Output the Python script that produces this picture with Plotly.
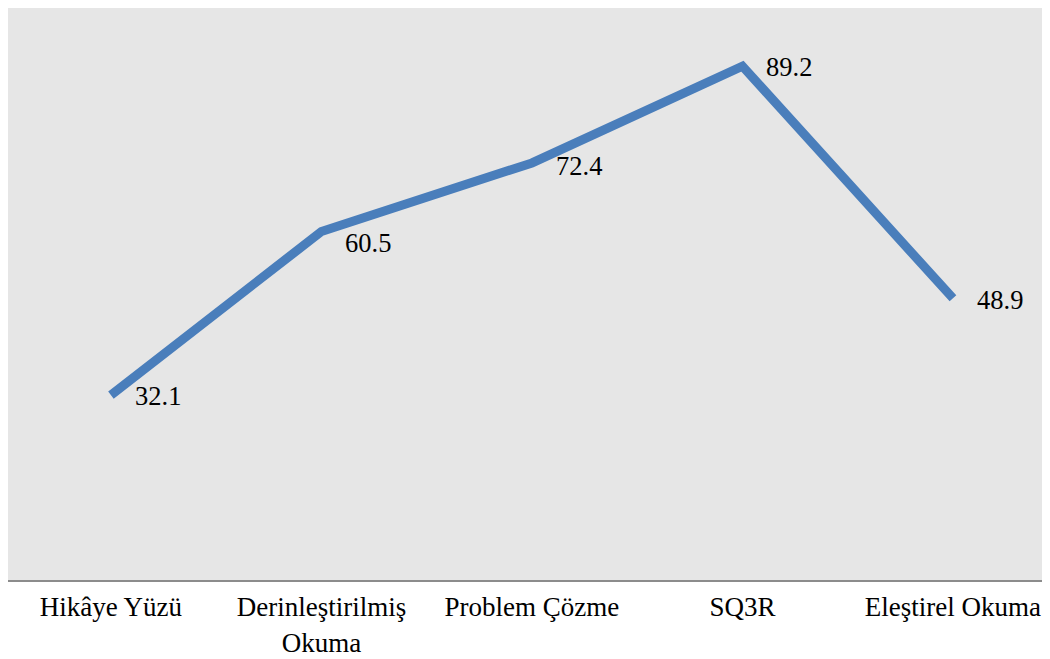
import plotly.graph_objects as go

categories = ["Hikâye Yüzü", "Derinleştirilmiş<br>Okuma", "Problem Çözme", "SQ3R", "Eleştirel Okuma"]
values = [32.1, 60.5, 72.4, 89.2, 48.9]
value_labels = ["32.1", "60.5", "72.4", "89.2", "48.9"]

_FONT = "Liberation Serif, Times New Roman, serif"
_BLUE = "#4a7ebb"

fig = go.Figure()
fig.add_trace(
    go.Scatter(
        x=list(range(len(categories))),
        y=values,
        mode="lines",
        line=dict(color=_BLUE, width=9),
        hoverinfo="skip",
    )
)

# value labels sit just right of each point (the second one drops a bit lower)
label_yshift = [-1, -11, -3, -1, -2]
for i, (v, t) in enumerate(zip(values, value_labels)):
    fig.add_annotation(
        x=i, y=v, text=t, showarrow=False,
        xanchor="left", yanchor="middle",
        xshift=22, yshift=label_yshift[i],
        font=dict(family=_FONT, size=26.5, color="black"),
    )

# page body adds 8px, so the figure is sized to the rest of the window
fig.update_layout(
    width=1042,
    height=651,
    margin=dict(l=0, r=0, t=0, b=79),
    paper_bgcolor="white",
    plot_bgcolor="#e6e6e6",
    showlegend=False,
    font=dict(family=_FONT, size=27, color="black"),
)
fig.update_xaxes(
    tickmode="array",
    tickvals=list(range(len(categories))),
    ticktext=categories,
    range=[-0.489, 4.461],
    automargin=False,
    showgrid=False,
    zeroline=False,
    showline=True,
    linecolor="#8c8c8c",
    linewidth=2,
    ticks="",
    ticklabelstandoff=2,
    tickfont=dict(family=_FONT, size=27, color="black"),
)
fig.update_yaxes(
    range=[0, 99.3],
    automargin=False,
    showgrid=False,
    zeroline=False,
    showticklabels=False,
    ticks="",
)

fig.write_html("out.html")
